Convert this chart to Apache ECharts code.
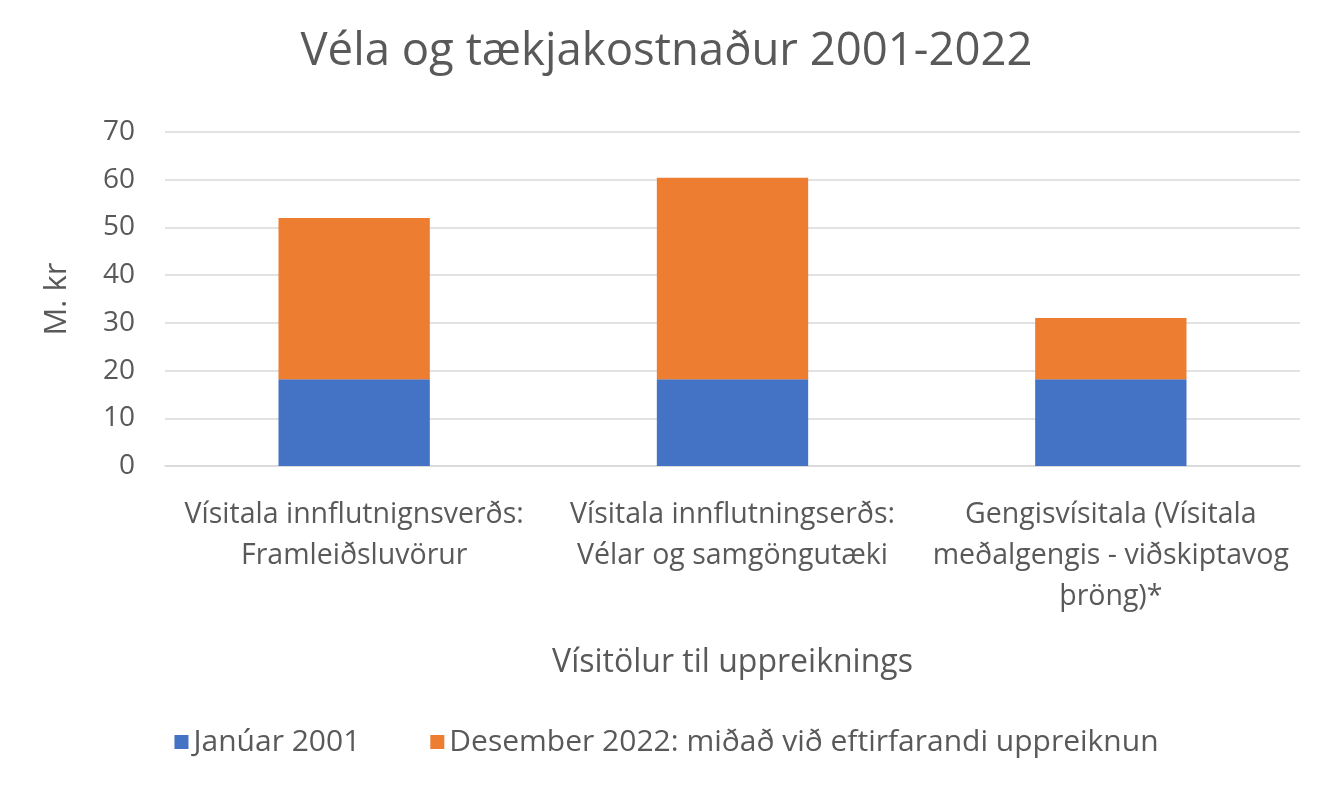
<!DOCTYPE html>
<html><head><meta charset="utf-8">
<script src="https://cdn.jsdelivr.net/npm/echarts@6/dist/echarts.min.js"></script>
<style>html,body{margin:0;padding:0;background:#fff}#c{width:1333px;height:792px}</style>
</head><body><div id="c"></div>
<script>
const categories = [
  'Vísitala innflutnignsverðs:\nFramleiðsluvörur',
  'Vísitala innflutningserðs:\nVélar og samgöngutæki',
  'Gengisvísitala (Vísitala\nmeðalgengis - viðskiptavog\nþröng)*'
];
const seriesNames = ['Janúar 2001', 'Desember 2022: miðað við eftirfarandi uppreiknun'];
const jan2001 = [18.2, 18.2, 18.2];
const des2022 = [33.8, 42.2, 12.8];
const yTicks = [0, 10, 20, 30, 40, 50, 60, 70];

const FONT = '"Open Sans", sans-serif';
const chart = echarts.init(document.getElementById('c'));
chart.setOption({
  animation: false,
  title: {
    text: 'Véla og tækjakostnaður 2001-2022',
    left: 'center', top: 24,
    textStyle: { fontFamily: FONT, fontSize: 45.5, fontWeight: 'normal', color: '#595959' }
  },
  grid: { left: 165, right: 33, top: 132, bottom: 326 },
  legend: {
    bottom: 30, left: 'center',
    itemWidth: 14, itemHeight: 14, itemGap: 70,
    icon: 'rect',
    textStyle: { fontFamily: FONT, fontSize: 30, color: '#595959' },
    data: seriesNames
  },
  xAxis: {
    type: 'category',
    data: categories,
    name: 'Vísitölur til uppreiknings',
    nameLocation: 'middle', nameGap: 181,
    nameTextStyle: { fontFamily: FONT, fontSize: 32, color: '#595959' },
    axisLine: { lineStyle: { color: '#D9D9D9', width: 1.5 } },
    axisTick: { show: false },
    axisLabel: { fontFamily: FONT, fontSize: 28.5, color: '#595959', lineHeight: 41, margin: 28, interval: 0 }
  },
  yAxis: {
    type: 'value', min: yTicks[0], max: yTicks[yTicks.length - 1], interval: 10,
    name: 'M. kr',
    nameLocation: 'middle', nameRotate: 90, nameGap: 92,
    nameTextStyle: { fontFamily: FONT, fontSize: 31, color: '#595959' },
    axisLine: { show: false }, axisTick: { show: false },
    axisLabel: { fontFamily: FONT, fontSize: 28, color: '#595959', margin: 30 },
    splitLine: { lineStyle: { color: '#D9D9D9', width: 1.5 } }
  },
  series: [
    { name: seriesNames[0], type: 'bar', stack: 's', data: jan2001, barWidth: '40%', itemStyle: { color: '#4472C4' } },
    { name: seriesNames[1], type: 'bar', stack: 's', data: des2022, barWidth: '40%', itemStyle: { color: '#ED7D31' } }
  ]
});
</script></body></html>
